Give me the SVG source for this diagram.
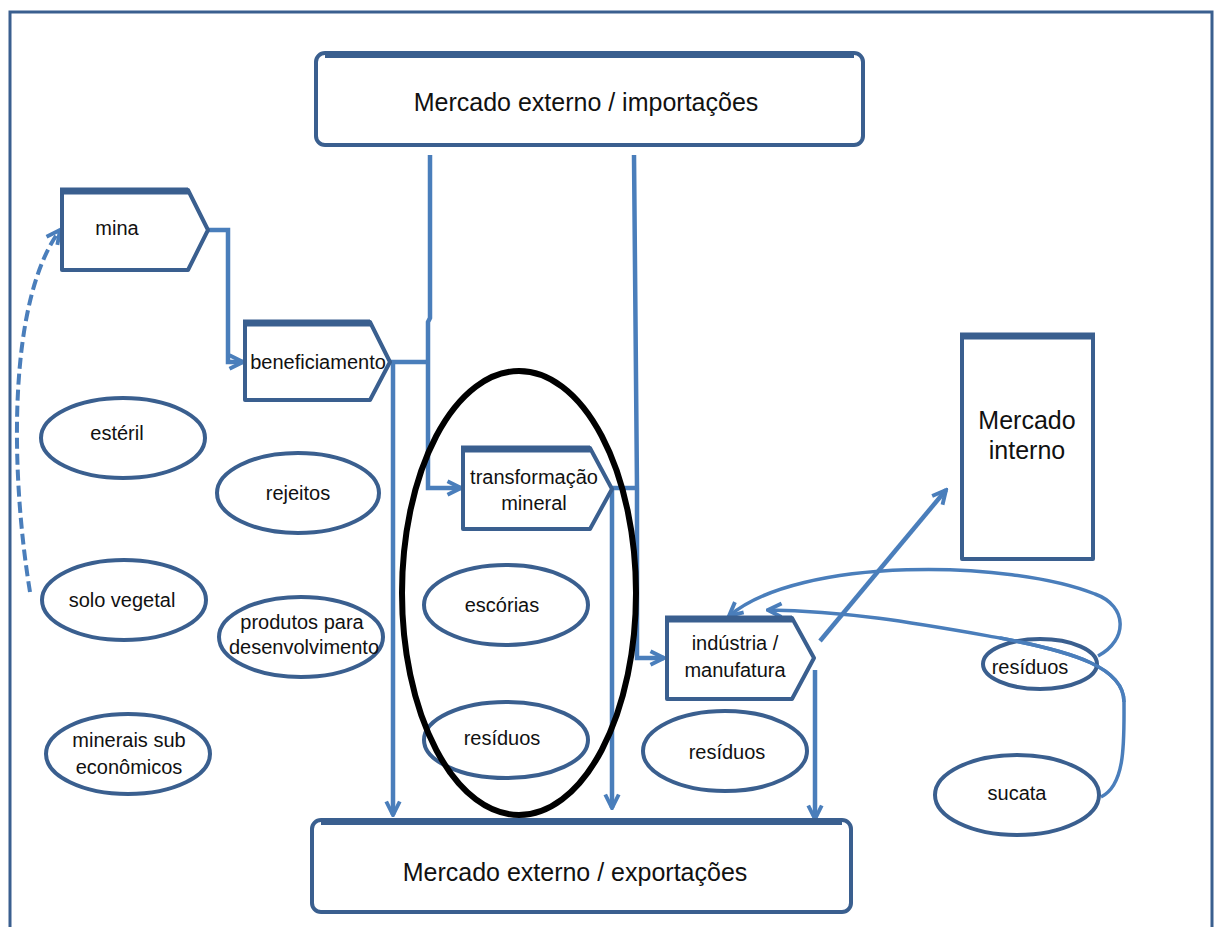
<svg xmlns="http://www.w3.org/2000/svg" width="1215" height="927" viewBox="0 0 1215 927">
  <style>
    .frame { fill: none; stroke: #3a5f8f; stroke-width: 3; }
    .box { fill: #ffffff; stroke: #3a5f8f; stroke-width: 4; stroke-linejoin: round; }
    .topedge { fill: none; stroke: #3a5f8f; stroke-width: 7; stroke-linecap: butt; }
    .oval { fill: #ffffff; stroke: #3a5f8f; stroke-width: 4; }
    .group-ring { fill: none; stroke: #000000; stroke-width: 6; }
    .flow { fill: none; stroke: #4a7ebb; stroke-width: 4.5; stroke-linejoin: miter; }
    .loop { fill: none; stroke: #4a7ebb; stroke-width: 3.5; }
    .dash { fill: none; stroke: #4a7ebb; stroke-width: 4; stroke-dasharray: 11 5; }
    .lbl { font-family: "Liberation Sans", Arial, sans-serif; font-size: 20px; fill: #111111; text-anchor: middle; }
    .big { font-family: "Liberation Sans", Arial, sans-serif; font-size: 25px; fill: #111111; text-anchor: middle; }
  </style>
  <defs>
    <marker id="arrow" viewBox="0 0 12 12" refX="10.5" refY="6" markerWidth="18" markerHeight="18" markerUnits="userSpaceOnUse" orient="auto">
      <path d="M1.5,1.5 L10.5,6 L1.5,10.5" fill="none" stroke="#4a7ebb" stroke-width="2.6" stroke-linejoin="miter"/>
    </marker>
  </defs>

  <rect width="1215" height="927" fill="#ffffff"/>

  <!-- outer frame -->
  <path class="frame" d="M10,930 V12 H1212 V930"/>

  <!-- connectors -->
  <g id="connectors">
    <path class="flow" d="M208,230 H228 V362 H243" marker-end="url(#arrow)"/>
    <path class="flow" d="M390,362 H430"/>
    <path class="flow" d="M393,362 V815" marker-end="url(#arrow)"/>
    <path class="flow" d="M430,155 V318 L428,322 V488 H461" marker-end="url(#arrow)"/>
    <path class="flow" d="M634,155 L637,488 V658 H664" marker-end="url(#arrow)"/>
    <path class="flow" d="M612,488 H637"/>
    <path class="flow" d="M612,490 V808" marker-end="url(#arrow)"/>
    <path class="flow" d="M815,670 V819" marker-end="url(#arrow)"/>
    <path class="flow" d="M820,641 L946,490" marker-end="url(#arrow)"/>
    <path class="loop" d="M1098,656 C1128,640 1128,606 1095,594 C1010,560 800,556 729,616" marker-end="url(#arrow)"/>
    <path class="loop" d="M1101,797 C1126,785 1124,740 1124,702 C1124,668 1075,652 1000,638 C920,624 850,611 768,610" marker-end="url(#arrow)"/>
    <path class="dash" d="M30,592 C10,470 8,300 60,230" marker-end="url(#arrow)"/>
  </g>

  <g id="importacoes">
    <rect class="box" x="316" y="53" width="547" height="92" rx="9"/>
    <path class="topedge" d="M325,54.5 H854"/>
    <text class="big" x="586" y="111">Mercado externo / importações</text>
  </g>

  <g id="exportacoes">
    <rect class="box" x="312" y="820" width="539" height="92" rx="9"/>
    <path class="topedge" d="M321,821.5 H842"/>
    <text class="big" x="575" y="881">Mercado externo / exportações</text>
  </g>

  <g id="mina">
    <path class="box" d="M62,190 H188 L208,230 L188,270 H62 Z"/>
    <path class="topedge" d="M60,191 H188"/>
    <text class="lbl" x="117" y="235">mina</text>
  </g>

  <g id="beneficiamento">
    <path class="box" d="M245,322 H370 L390,362 L370,400 H245 Z"/>
    <path class="topedge" d="M243,323 H370"/>
    <text class="lbl" x="318" y="369">beneficiamento</text>
  </g>

  <g id="transformacao">
    <path class="box" d="M463,448 H590 L612,489 L590,529 H463 Z"/>
    <path class="topedge" d="M461,449 H590"/>
    <text class="lbl" x="534" y="484">transformação</text>
    <text class="lbl" x="534" y="510">mineral</text>
  </g>

  <g id="industria">
    <path class="box" d="M667,618 H792 L814,658 L792,699 H667 Z"/>
    <path class="topedge" d="M665,619 H792"/>
    <text class="lbl" x="735" y="650">indústria /</text>
    <text class="lbl" x="735" y="677">manufatura</text>
  </g>

  <g id="mercado-interno">
    <rect class="box" x="962" y="335" width="131" height="224"/>
    <path class="topedge" d="M960,336 H1095"/>
    <text class="big" x="1027" y="429">Mercado</text>
    <text class="big" x="1027" y="459">interno</text>
  </g>

  <g id="esteril">
    <ellipse class="oval" cx="123" cy="438" rx="82" ry="40"/>
    <text class="lbl" x="117" y="440">estéril</text>
  </g>

  <g id="rejeitos">
    <ellipse class="oval" cx="298" cy="493" rx="81" ry="40"/>
    <text class="lbl" x="298" y="500">rejeitos</text>
  </g>

  <g id="solo-vegetal">
    <ellipse class="oval" cx="124" cy="600" rx="82" ry="40"/>
    <text class="lbl" x="122" y="607">solo vegetal</text>
  </g>

  <g id="produtos">
    <ellipse class="oval" cx="301" cy="637" rx="82" ry="40"/>
    <text class="lbl" x="302" y="629">produtos para</text>
    <text class="lbl" x="304" y="654">desenvolvimento</text>
  </g>

  <g id="minerais-sub">
    <ellipse class="oval" cx="128" cy="754" rx="82" ry="40"/>
    <text class="lbl" x="129" y="747">minerais sub</text>
    <text class="lbl" x="129" y="774">econômicos</text>
  </g>

  <g id="escorias">
    <ellipse class="oval" cx="506" cy="605" rx="82" ry="40"/>
    <text class="lbl" x="502" y="612">escórias</text>
  </g>

  <g id="residuos-transformacao">
    <ellipse class="oval" cx="506" cy="740" rx="82" ry="38"/>
    <text class="lbl" x="502" y="745">resíduos</text>
  </g>

  <g id="residuos-industria">
    <ellipse class="oval" cx="725" cy="751" rx="82" ry="40"/>
    <text class="lbl" x="727" y="759">resíduos</text>
  </g>

  <g id="residuos-consumo">
    <ellipse class="oval" cx="1040" cy="664" rx="57" ry="25" fill-opacity="0"/>
    <text class="lbl" x="1030" y="674">resíduos</text>
  </g>

  <g id="sucata">
    <ellipse class="oval" cx="1017" cy="795" rx="82" ry="40"/>
    <text class="lbl" x="1017" y="800">sucata</text>
  </g>

  <!-- loop line passes over the small waste node -->
  <path class="loop" d="M1124,702 C1124,668 1075,652 1000,638"/>

  <!-- grouping ring around the transformation stage, drawn on top -->
  <ellipse id="ring" class="group-ring" cx="519" cy="593" rx="117" ry="222"/>
</svg>
